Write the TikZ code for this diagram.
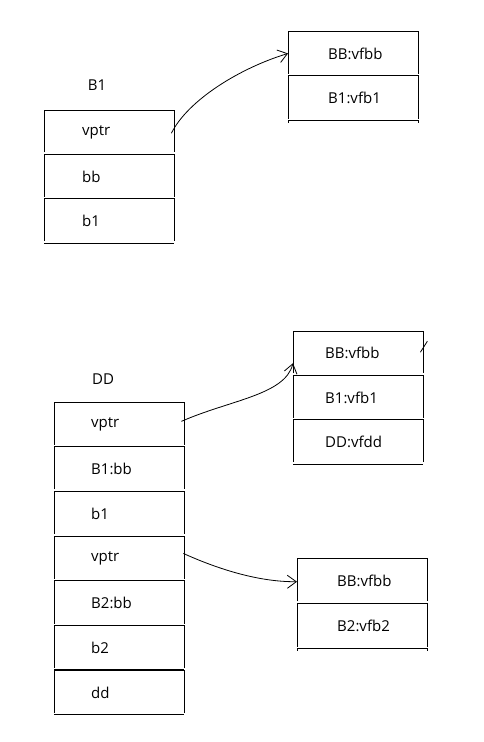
\documentclass[tikz,border=0pt]{standalone}
\usepackage{fontspec}
\setmainfont{Open Sans}
\usetikzlibrary{arrows.meta,positioning}
\begin{document}
\begin{tikzpicture}[x=1pt,y=-1pt,
  every node/.style={font=\fontsize{15pt}{18pt}\selectfont},
  cell/.style={draw=none, minimum width=130pt, text width=130pt, inner xsep=0pt, inner ysep=0pt,
    align=left, anchor=north west, execute at begin node={\hspace*{#1}}},
  cell/.default=38pt,
  frame/.style={line width=1pt, black},
  arr/.style={-{Straight Barb[length=9pt,width=13pt]}, line width=0.8pt},
  title/.style={inner sep=0pt}]
\useasboundingbox (0,0) rectangle (484,742);

% ---- B1 object ----
\node[title] (lb1) at (97,85) {B1};
\node[cell=38pt, minimum height=44pt] (a1) at (44,110) {vptr};
\node[cell=38pt, minimum height=44pt, below=0pt of a1] (a2) {bb};
\node[cell=38pt, minimum height=44pt, below=0pt of a2] (a3) {b1};

% ---- vtable of B1 ----
\node[cell=40pt, minimum height=44.5pt] (v11) at (288,31) {BB:vfbb};
\node[cell=40pt, minimum height=44.5pt, below=0pt of v11] (v12) {B1:vfb1};

% ---- DD object ----
\node[title] (ldd) at (103,379) {DD};
\node[cell=37pt, minimum height=44.3pt] (d1) at (54,402) {vptr};
\node[cell=37pt, minimum height=44.3pt, below=0pt of d1] (d2) {B1:bb};
\node[cell=37pt, minimum height=44.3pt, below=0pt of d2] (d3) {b1};
\node[cell=37pt, minimum height=44.3pt, below=0pt of d3] (d4) {vptr};
\node[cell=37pt, minimum height=44.3pt, below=0pt of d4] (d5) {B2:bb};
\node[cell=37pt, minimum height=44.3pt, below=0pt of d5] (d6) {b2};
\node[cell=37pt, minimum height=44.3pt, below=0pt of d6] (d7) {dd};

% ---- vtable 1 of DD ----
\node[cell=32pt, minimum height=44pt] (v21) at (293,331) {BB:vfbb};
\node[cell=32pt, minimum height=44pt, below=0pt of v21] (v22) {B1:vfb1};
\node[cell=32pt, minimum height=44pt, below=0pt of v22] (v23) {DD:vfdd};

% ---- vtable 2 of DD ----
\node[cell=40pt, minimum height=45pt] (v31) at (297,558) {BB:vfbb};
\node[cell=40pt, minimum height=45pt, below=0pt of v31] (v32) {B2:vfb2};

% ---- cell outlines (top and sides) ----
\foreach \n in {a1,a2,a3,v11,v12,d1,d2,d3,d4,d5,d6,d7,v21,v22,v23,v31,v32}
  \draw[frame] ([yshift=2pt]\n.south west) |- (\n.north east) -- ([yshift=2pt]\n.south east);
% closing bottoms
\foreach \n in {a3,d7,v23}
  \draw[frame] (\n.south west) -- (\n.south east);
% open ends of the two vtables
\foreach \n in {v12,v32}
  \draw[frame] ([yshift=-2pt]\n.south west) -- (\n.south west) -- (\n.south east) -- ([yshift=-2pt]\n.south east);
% heavier separator above dd
\draw[line width=2pt] (d7.north west) -- (d7.north east);

% ---- pointers ----
\draw[arr] ([xshift=-3pt,yshift=-1pt]a1.east) .. controls (188,100) and (240,68) .. (v11.west);
\draw[arr] ([xshift=-3pt,yshift=3pt]d1.east) .. controls (230,400) and (285,395) .. ([yshift=-10pt]v21.west);
\draw[arr] ([xshift=-1pt,yshift=5pt]d4.east) .. controls (220,570) and (260,582) .. ([yshift=-1pt]v31.west);

% stray pen mark
\draw[line width=0.8pt] ([xshift=4pt,yshift=12pt]v21.east) .. controls ([xshift=0pt,yshift=6pt]v21.east) .. ([xshift=-3pt,yshift=1pt]v21.east);
\end{tikzpicture}
\end{document}
